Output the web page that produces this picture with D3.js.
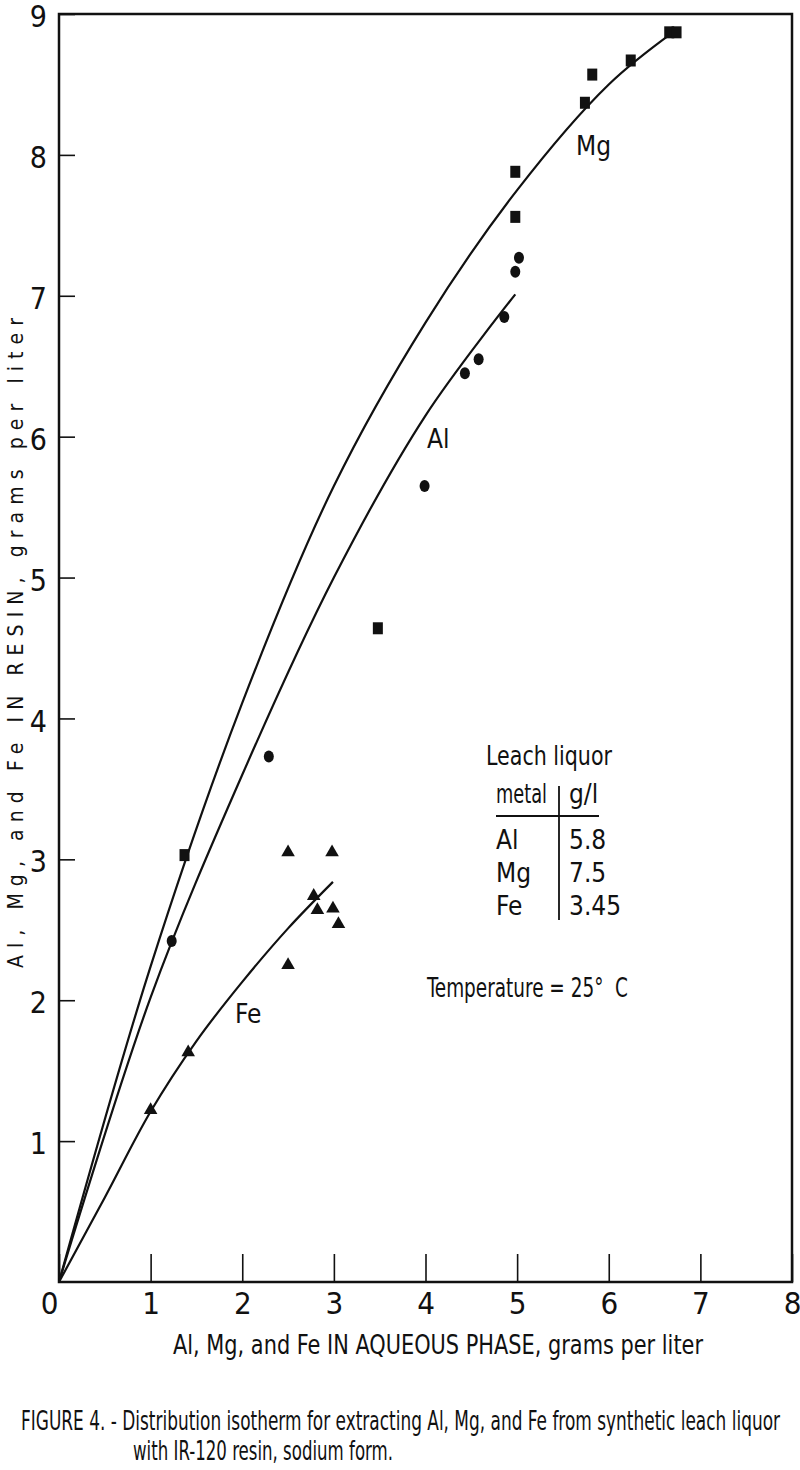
<!DOCTYPE html>
<html>
<head>
<meta charset="utf-8">
<script src="https://cdn.jsdelivr.net/npm/d3@7"></script>
<style>
body { margin: 0; background: #fff; }
svg { display: block; }
text { font-family: "Liberation Sans Narrow", "DejaVu Sans Condensed", "Roboto Condensed", "Liberation Sans", sans-serif; fill: #111; }
</style>
</head>
<body>
<svg id="chart" width="800" height="1470"></svg>
<script>
// measured points, grams per liter (aqueous vs resin)
var mgAq    = [1.37, 3.48, 4.98, 4.98, 5.74, 5.82, 6.24, 6.66, 6.74];
var mgResin = [3.03, 4.64, 7.88, 7.56, 8.37, 8.57, 8.67, 8.87, 8.87];
var alAq    = [1.23, 2.29, 3.99, 4.43, 4.58, 4.86, 4.98, 5.02];
var alResin = [2.42, 3.73, 5.65, 6.45, 6.55, 6.85, 7.17, 7.27];
var feAq    = [1.00, 1.41, 2.50, 2.98, 2.78, 2.82, 2.99, 3.05, 2.50];
var feResin = [1.22, 1.63, 3.05, 3.05, 2.74, 2.64, 2.65, 2.54, 2.25];

// drawn isotherm curves
var mgFitX = [0, 1, 2, 3, 4, 5, 6, 6.70];
var mgFitY = [0, 2.24, 4.11, 5.65, 6.81, 7.75, 8.50, 8.87];
var alFitX = [0, 1, 2, 3, 4, 4.98];
var alFitY = [0, 2.02, 3.60, 5.00, 6.15, 7.01];
var feFitX = [0, 0.5, 1.0, 1.5, 2.0, 2.5, 2.99];
var feFitY = [0, 0.60, 1.21, 1.71, 2.13, 2.51, 2.84];

var xTicks = [0, 1, 2, 3, 4, 5, 6, 7, 8];
var yTicks = [1, 2, 3, 4, 5, 6, 7, 8, 9];

// leach liquor table
var liquorMetal = ["Al", "Mg", "Fe"];
var liquorConc  = ["5.8", "7.5", "3.45"];

var svg = d3.select("#chart");
var ink = "#111";

var x = d3.scaleLinear().domain([0, 8]).range([59, 792]);
var y = d3.scaleLinear().domain([0, 9]).range([1282, 14]);

function zip(xs, ys) { return xs.map((v, i) => [v, ys[i]]); }

// frame
svg.append("rect")
    .attr("x", x(0)).attr("y", y(9))
    .attr("width", x(8) - x(0)).attr("height", y(0) - y(9))
    .attr("fill", "none").attr("stroke", ink).attr("stroke-width", 2.5);

// x axis, ticks point inward
var gx = svg.append("g")
    .attr("transform", "translate(0," + y(0) + ")")
    .call(d3.axisBottom(x).tickValues(xTicks).tickSizeInner(-28).tickSizeOuter(0).tickPadding(10));
gx.select(".domain").remove();
gx.selectAll(".tick line").attr("stroke", ink).attr("stroke-width", 1.6);
gx.selectAll(".tick text").style("font-size", "31px").attr("fill", ink);
gx.selectAll(".tick").filter(d => d === 0).select("text").attr("dx", -10);

// y axis
var gy = svg.append("g")
    .attr("transform", "translate(" + x(0) + ",0)")
    .call(d3.axisLeft(y).tickValues(yTicks).tickSizeInner(-16).tickSizeOuter(0).tickPadding(12));
gy.select(".domain").remove();
gy.selectAll(".tick line").attr("stroke", ink).attr("stroke-width", 1.6);
gy.selectAll(".tick text").style("font-size", "30px").attr("fill", ink).attr("dy", "0.42em");

// curves
var line = d3.line().x(d => x(d[0])).y(d => y(d[1])).curve(d3.curveCatmullRom.alpha(0.5));
[[mgFitX, mgFitY], [alFitX, alFitY], [feFitX, feFitY]].forEach(function(c) {
    svg.append("path")
        .datum(zip(c[0], c[1]))
        .attr("d", line)
        .attr("fill", "none")
        .attr("stroke", ink)
        .attr("stroke-width", 2.2);
});

// markers
svg.append("g").selectAll("rect")
    .data(zip(mgAq, mgResin))
    .join("rect")
    .attr("x", d => x(d[0]) - 5).attr("y", d => y(d[1]) - 6)
    .attr("width", 10).attr("height", 12)
    .attr("fill", ink);

svg.append("g").selectAll("ellipse")
    .data(zip(alAq, alResin))
    .join("ellipse")
    .attr("cx", d => x(d[0])).attr("cy", d => y(d[1]))
    .attr("rx", 5).attr("ry", 6)
    .attr("fill", ink);

var tri = d3.symbol().type(d3.symbolTriangle).size(80);
svg.append("g").selectAll("path")
    .data(zip(feAq, feResin))
    .join("path")
    .attr("d", tri)
    .attr("transform", d => "translate(" + x(d[0]) + "," + y(d[1]) + ")")
    .attr("fill", ink);

// curve labels
function label(txt, px, py, size) {
    return svg.append("text").attr("x", px).attr("y", py).style("font-size", size + "px").text(txt);
}
label("Mg", 576, 155, 26);
label("Al", 427, 448, 26);
label("Fe", 235, 1023, 26);

// leach liquor table
label("Leach liquor", 486, 765, 26).attr("textLength", 126).attr("lengthAdjust", "spacingAndGlyphs");
label("metal", 496, 803, 26).attr("textLength", 51).attr("lengthAdjust", "spacingAndGlyphs");
label("g/l", 569, 803, 26);
svg.append("line").attr("x1", 496).attr("x2", 599).attr("y1", 816).attr("y2", 816)
    .attr("stroke", ink).attr("stroke-width", 2.2);
svg.append("line").attr("x1", 559).attr("x2", 559).attr("y1", 786).attr("y2", 920)
    .attr("stroke", ink).attr("stroke-width", 1.8);
liquorMetal.forEach(function(m, i) {
    label(m, 496, 849 + i * 33, 26);
    label(liquorConc[i], 569, 849 + i * 33, 26);
});
label("Temperature = 25\u00B0  C", 427, 997, 26)
    .attr("textLength", 201).attr("lengthAdjust", "spacingAndGlyphs")
    .style("white-space", "pre");

// axis titles
label("Al, Mg, and Fe IN AQUEOUS PHASE, grams per liter", 173, 1354, 26)
    .attr("textLength", 530).attr("lengthAdjust", "spacingAndGlyphs");

svg.append("text")
    .attr("transform", "translate(23,643) rotate(-90)")
    .attr("text-anchor", "middle")
    .style("font-size", "21px")
    .attr("textLength", 650).attr("lengthAdjust", "spacing")
    .text("Al, Mg, and Fe IN RESIN, grams per liter");

// caption: condensed face, drawn small and stretched tall
function caption(txt, px, py, len) {
    return svg.append("text")
        .attr("transform", "translate(" + px + "," + py + ") scale(1,1.42)")
        .style("font-size", "19px")
        .attr("textLength", len).attr("lengthAdjust", "spacingAndGlyphs")
        .text(txt);
}
caption("FIGURE 4. - Distribution isotherm for extracting Al, Mg, and Fe from synthetic leach liquor", 21, 1430, 759);
caption("with IR-120 resin, sodium form.", 133, 1460, 260);
</script>
</body>
</html>
